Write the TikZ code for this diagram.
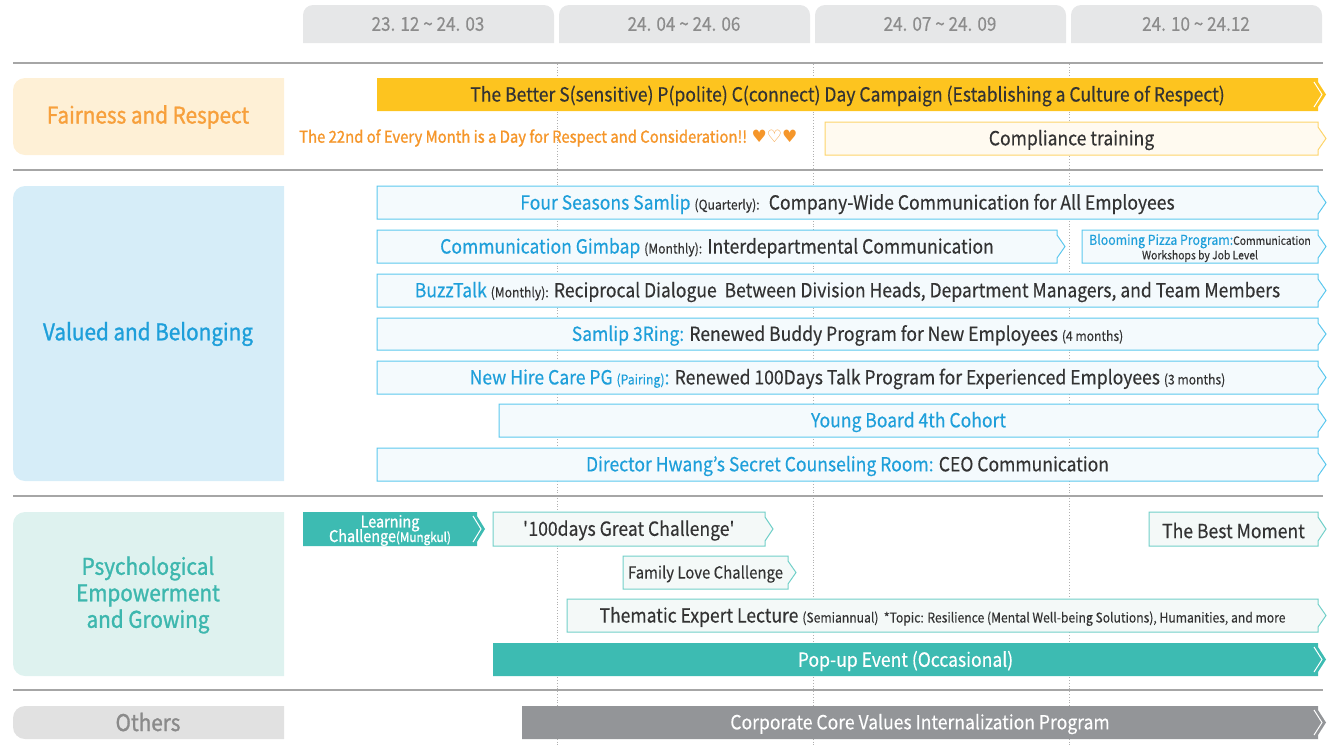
\documentclass[tikz,border=0pt]{standalone}
\usepackage{fontspec}
\setmainfont{Noto Sans CJK KR}[FakeStretch=0.9, FakeBold=0.3]
\newfontfamily\medfont{Noto Sans CJK KR}[FakeStretch=0.9, FakeBold=1.2]
\newfontfamily\symfont{DejaVu Sans}
\usepackage{xcolor}
\usepackage{tikz}
\usetikzlibrary{positioning, calc}

\definecolor{tabgray}{HTML}{E6E7E8}
\definecolor{tabtext}{HTML}{8C8C8C}
\definecolor{rulegray}{HTML}{A6A6A6}
\definecolor{dotgray}{HTML}{B0B0B0}
\definecolor{fairfill}{HTML}{FEF0D6}
\definecolor{fairtext}{HTML}{F7A03C}
\definecolor{dayorange}{HTML}{F5962A}
\definecolor{spcyellow}{HTML}{FDC41F}
\definecolor{compfill}{HTML}{FFFAF0}
\definecolor{compline}{HTML}{FDD56B}
\definecolor{valfill}{HTML}{D6EDF8}
\definecolor{bluetext}{HTML}{1E9FDA}
\definecolor{blueline}{HTML}{5CC8EE}
\definecolor{bluefill}{HTML}{F4FAFD}
\definecolor{psyfill}{HTML}{DEF2EF}
\definecolor{psytext}{HTML}{3DB7AE}
\definecolor{teal}{HTML}{3DBBB2}
\definecolor{tealline}{HTML}{72D0C9}
\definecolor{tealfill}{HTML}{F4F9F8}
\definecolor{othfill}{HTML}{E1E1E1}
\definecolor{othtext}{HTML}{8A8A8A}
\definecolor{corefill}{HTML}{939598}
\definecolor{darktext}{HTML}{333333}

\newcommand{\fsz}[1]{\fontsize{#1}{#1}\selectfont}
% outlined bar: style, name, left, right, top, bottom, text
\newcommand{\planbar}[7]{%
  \filldraw[#1] (#3,#5) -- (#4,#5) -- (#4,#5+5) -- (#4+8,{(#5+#6)/2})
    -- (#4,#6-5) -- (#4,#6) -- (#3,#6) -- cycle;
  \node[bartext] (#2) at ({(#3+#4)/2},{(#5+#6)/2}) {#7};}
% filled bar with a white notch at the tip
\newcommand{\solidbar}[7]{%
  \fill[#1] (#3,#5) -- (#4,#5) -- (#4,#5+4) -- (#4+8,{(#5+#6)/2})
    -- (#4,#6-4) -- (#4,#6) -- (#3,#6) -- cycle;
  \draw[white, line width=1] (#4-4,#5+4) -- (#4+4,{(#5+#6)/2}) -- (#4-4,#6-4);
  \node[bartext, white] (#2) at ({(#3+#4)/2},{(#5+#6)/2}) {#7};}

\begin{document}
\begin{tikzpicture}[x=1pt, y=-1pt,
  bartext/.style={inner sep=0pt, text=darktext, font=\fsz{19.5}, align=center, yshift=-1.5pt},
  tab/.style={fill=tabgray, rounded corners=10},
  tabtxt/.style={text=tabtext, font=\fsz{19}},
  catbox/.style={rounded corners=12},
  cattxt/.style={font=\medfont\fontsize{23}{26.5}\selectfont, align=center},
  rule/.style={draw=rulegray, line width=1.3},
  monthline/.style={draw=dotgray, dotted, line width=0.8},
  bluebar/.style={draw=blueline, fill=bluefill, line width=1},
  tealbar/.style={draw=tealline, fill=tealfill, line width=1},
  compbar/.style={draw=compline, fill=compfill, line width=1}]
  \useasboundingbox (0,0) rectangle (1341,745);

  % period tabs
  \fill[tab] (303,43) -- (303,5) -- (554,5) -- (554,43);
  \fill[tab] (559,43) -- (559,5) -- (810,5) -- (810,43);
  \fill[tab] (815,43) -- (815,5) -- (1066,5) -- (1066,43);
  \fill[tab] (1071,43) -- (1071,5) -- (1322,5) -- (1322,43);
  \node[tabtxt] (tabA) at (428,24) {23. 12 \textasciitilde\ 24. 03};
  \node[tabtxt] (tabB) at (684,24) {24. 04 \textasciitilde\ 24. 06};
  \node[tabtxt] (tabC) at (940,24) {24. 07 \textasciitilde\ 24. 09};
  \node[tabtxt] (tabD) at (1196,24) {24. 10 \textasciitilde\ 24.12};

  % grid
  \foreach \gx in {557,813,1069}
    \draw[monthline] (\gx,64) -- (\gx,745);
  \foreach \gy in {63,170,496,690}
    \draw[rule] (13,\gy) -- (1323,\gy);

  % categories
  \fill[catbox, fairfill] (284,78) -- (13,78) -- (13,155) -- (284,155);
  \fill[catbox, valfill] (284,186) -- (13,186) -- (13,481) -- (284,481);
  \fill[catbox, psyfill] (284,512) -- (13,512) -- (13,676) -- (284,676);
  \fill[catbox, othfill] (284,706) -- (13,706) -- (13,739) -- (284,739);
  \node[cattxt, text=fairtext] (fair) at (148,117) {Fairness and Respect};
  \node[cattxt, text=bluetext] (valued) at (148,334) {Valued and Belonging};
  \node[cattxt, text=psytext] (psych) at (148,595) {Psychological\\Empowerment\\and Growing};
  \node[cattxt, text=othtext] (others) at (148,722) {Others};

  % fairness and respect
  \solidbar{spcyellow}{spc}{377}{1318}{78}{111}
    {\color{darktext}The Better S(sensitive) P(polite) C(connect) Day Campaign (Establishing a Culture of Respect)}
  \node[anchor=west, inner sep=0pt, text=dayorange, font=\medfont\fsz{16.5}] (dayline) at (299,138)
    {The 22nd of Every Month is a Day for Respect and Consideration!! {\symfont\fsz{17}♥♡♥}};
  \planbar{compbar}{compliance}{825}{1318}{122}{155}{Compliance training}

  % valued and belonging
  \planbar{bluebar}{seasons}{377}{1318}{186}{219}
    {\textcolor{bluetext}{Four Seasons Samlip} {\fsz{13.5}(Quarterly):} \ Company-Wide Communication for All Employees}
  \planbar{bluebar}{gimbap}{377}{1057}{230}{263}
    {\textcolor{bluetext}{Communication Gimbap} {\fsz{13.5}(Monthly):} Interdepartmental Communication}
  \planbar{bluebar}{pizza}{1082}{1318}{230}{263}
    {{\fsz{13.7}\textcolor{bluetext}{Blooming Pizza Program:}}{\fsz{11.5}Communication}\\[-5pt]{\fsz{11.5}Workshops by Job Level}}
  \planbar{bluebar}{buzz}{377}{1318}{274}{307}
    {\textcolor{bluetext}{BuzzTalk} {\fsz{13.5}(Monthly):} Reciprocal Dialogue \ Between Division Heads, Department Managers, and Team Members}
  \planbar{bluebar}{ring}{377}{1318}{318}{350}
    {\textcolor{bluetext}{Samlip 3Ring:} Renewed Buddy Program for New Employees {\fsz{13.5}(4 months)}}
  \planbar{bluebar}{newhire}{377}{1318}{361}{394}
    {\textcolor{bluetext}{New Hire Care PG {\fsz{13.5}(Pairing)}:} Renewed 100Days Talk Program for Experienced Employees {\fsz{13.5}(3 months)}}
  \planbar{bluebar}{youngboard}{499}{1318}{404}{437}
    {\textcolor{bluetext}{Young Board 4th Cohort}}
  \planbar{bluebar}{hwang}{377}{1318}{448}{481}
    {\textcolor{bluetext}{Director Hwang’s Secret Counseling Room:} CEO Communication}

  % psychological empowerment and growing
  \solidbar{teal}{learning}{303}{477}{512}{546}
    {{\medfont\fsz{16}Learning}\\[-5pt]{\medfont\fsz{16}Challenge{\fsz{13}(Mungkul)}}}
  \planbar{tealbar}{greatch}{493}{765}{512}{546}{\textquotesingle 100days Great Challenge\textquotesingle}
  \planbar{tealbar}{family}{623}{788}{556}{589}{\fsz{16.6}Family Love Challenge}
  \planbar{tealbar}{bestmoment}{1149}{1318}{512}{546}{The Best Moment}
  \planbar{tealbar}{lecture}{567}{1318}{599}{632}
    {Thematic Expert Lecture {\fsz{13.5}(Semiannual) \ *Topic: Resilience (Mental Well-being Solutions), Humanities, and more}}
  \solidbar{teal}{popup}{493}{1318}{643}{676}{Pop-up Event (Occasional)}

  % others
  \solidbar{corefill}{corevalues}{522}{1318}{706}{739}{Corporate Core Values Internalization Program}
\end{tikzpicture}
\end{document}
